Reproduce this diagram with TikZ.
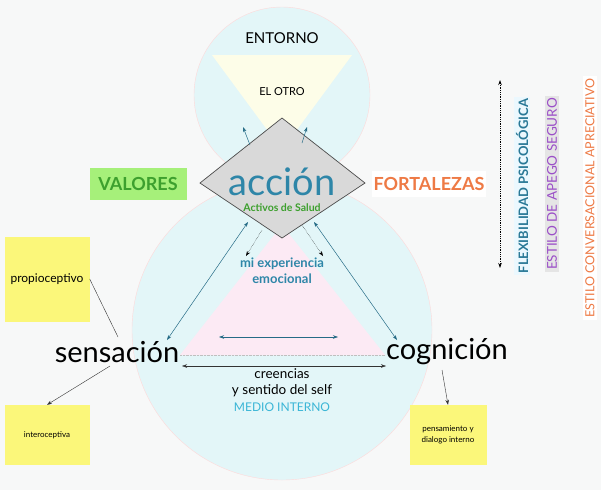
\documentclass[tikz,border=0pt]{standalone}
\usepackage{fontspec}
\setmainfont{Lato}
\usetikzlibrary{arrows.meta}
\definecolor{bg}{HTML}{F7F8F8}
\definecolor{cy}{HTML}{E3F6F8}
\definecolor{ye}{HTML}{FDFDE8}
\definecolor{pk}{HTML}{FCEAF4}
\definecolor{teal1}{HTML}{2E86A8}
\definecolor{gr}{HTML}{3DA02E}
\definecolor{org}{HTML}{EE7A45}
\definecolor{pur}{HTML}{9B4FC8}
\definecolor{sticky}{HTML}{FBF77A}
\definecolor{cyt}{HTML}{3BB6D6}
\definecolor{lime1}{HTML}{A6F07A}
\tikzset{x=1pt,y=-1pt,
 ln/.style={draw=teal1!80!black,line width=0.5pt},
 sticky/.style={fill=sticky,minimum width=85pt,minimum height=60pt,align=center,font=\fontsize{8}{11}\selectfont},
 big/.style={font=\fontsize{29}{32}\selectfont},
 tip/.style={-{Stealth[length=5pt,width=3.5pt]}},
 tips/.style={{Stealth[length=5pt,width=3.5pt]}-{Stealth[length=5pt,width=3.5pt]}}}
\begin{document}
\begin{tikzpicture}
\fill[bg] (0,0) rectangle (601,490);
\useasboundingbox (0,0) rectangle (601,490);
\fill[cy,draw=pink!60] (282,95) circle (88);
\fill[cy,draw=pink!60] (282,330) circle (150);
\fill[ye] (212,55) -- (352,55) -- (282,150) -- cycle;
\fill[pk] (282,225) -- (385,355) -- (180,355) -- cycle;
\draw[gray!50,densely dotted] (180,355) -- (385,355);
\node (ent) at (282,38) {\fontsize{15}{17}\selectfont ENTORNO};
\node (otro) at (282,92) {\fontsize{11}{13}\selectfont EL OTRO};
\draw[fill=black!15,draw=black!70,line width=0.7pt] (200,183) coordinate (dl) -- (282,118) coordinate (dt) -- (365,183) coordinate (dr) -- (282,238) coordinate (db) -- cycle;
\node[text=teal1,font=\fontsize{38}{40}\selectfont] (acc) at (282,182) {acción};
\node[text=gr,font=\bfseries\fontsize{10.5}{12}\selectfont] (act) at (282,208) {Activos de Salud};
\node[text=teal1,font=\bfseries\fontsize{13}{16}\selectfont,align=center] (exp) at (282,271) {mi experiencia\\emocional};
\node[big] (sen) at (117,352) {sensación};
\node[big] (cog) at (447,352) {cognición};
\coordinate (a1) at (250,145); \coordinate (a2) at (243,127);
\coordinate (b1) at (302,143); \coordinate (b2) at (307,127);
\draw[ln,tip] (a1) -- (a2);
\draw[ln,tip] (b1) -- (b2);
\coordinate (l1) at (248,222); \coordinate (l2) at (167,340);
\coordinate (r1) at (314,222); \coordinate (r2) at (397,340);
\draw[ln,tips] (l1) -- (l2);
\draw[ln,tips] (r1) -- (r2);
\coordinate (d1) at (262,230); \coordinate (d2) at (246,256);
\coordinate (e1) at (302,225); \coordinate (e2) at (323,256);
\draw[densely dotted,tip] (d1) -- (d2);
\draw[densely dotted,tip] (e1) -- (e2);
\coordinate (m1) at (219,337); \coordinate (m2) at (338,337);
\draw[ln,tips] (m1) -- (m2);
\coordinate (n1) at (182,366); \coordinate (n2) at (386,366);
\draw[tips,black!80] (n1) -- (n2);
\node[align=center,font=\fontsize{13.5}{16}\selectfont] (cre) at (282,383) {creencias\\y sentido del self};
\node[text=cyt,font=\fontsize{12}{14}\selectfont] (mi) at (282,407) {MEDIO INTERNO};
\node[fill=lime1,text=gr,font=\bfseries\fontsize{18}{20}\selectfont,minimum width=97pt,minimum height=32pt] (val) at (138,184) {VALORES};
\node[fill=white,text=org,font=\bfseries\fontsize{18}{20}\selectfont,minimum height=26pt,inner xsep=2pt] (fort) at (429,184) {FORTALEZAS};
\node[sticky,minimum height=85pt] (pro) at (47,279) {\fontsize{12}{14}\selectfont propioceptivo};
\node[sticky] (int) at (47,435) {interoceptiva};
\node[sticky,minimum width=77pt] (pen) at (448,435) {pensamiento y\\dialogo interno};
\draw[black!80] (pro.east) -- (118,337);
\coordinate (s1) at (110,366);
\draw[tip,black!80] (s1) -- (int.north);
\coordinate (s2) at (442,370);
\draw[tip,black!80] (s2) -- (pen.north);
\coordinate (v1) at (500,80); \coordinate (v2) at (500,268);
\draw[tips,densely dotted,line width=0.8pt] (v1) -- (v2);
\node[rotate=90,fill=cyan!8,text=teal1!90!black,font=\bfseries\fontsize{13}{15}\selectfont,inner sep=2pt] (flex) at (522,186) {FLEXIBILIDAD PSICOLÓGICA};
\node[rotate=90,fill=black!10,text=pur,font=\fontsize{13.5}{15}\selectfont,inner sep=2pt] (ape) at (552,184) {ESTILO DE APEGO SEGURO};
\node[rotate=90,fill=white,text=org,font=\fontsize{12.5}{14}\selectfont,inner sep=2pt] (con) at (590,198) {ESTILO CONVERSACIONAL APRECIATIVO};
\end{tikzpicture}
\end{document}
